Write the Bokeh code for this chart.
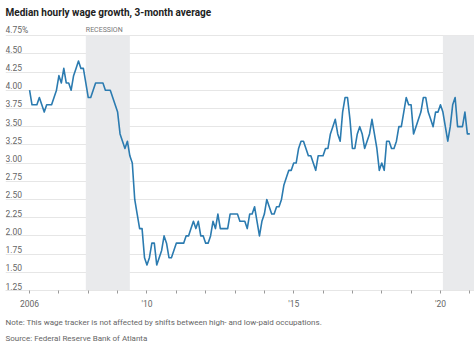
from bokeh.plotting import figure
from bokeh.models import Range1d, FixedTicker, ColumnDataSource, Title, BoxAnnotation
from bokeh.core.properties import value
from bokeh.embed import file_html
from bokeh.resources import INLINE

# ---- data -------------------------------------------------------------
start_year = 2006
wage_growth = [
    # 2006
    4.0, 3.8, 3.8, 3.8, 3.9, 3.8, 3.7, 3.8, 3.8, 3.8, 3.9, 4.0,
    # 2007
    4.2, 4.1, 4.3, 4.1, 4.1, 4.0, 4.2, 4.3, 4.4, 4.3, 4.3, 4.1,
    # 2008
    3.9, 3.9, 4.0, 4.1, 4.1, 4.1, 4.1, 4.0, 4.0, 4.0, 3.9, 3.8,
    # 2009
    3.7, 3.4, 3.3, 3.2, 3.3, 3.1, 3.0, 2.5, 2.3, 2.1, 2.1, 1.7,
    # 2010
    1.6, 1.7, 1.9, 1.9, 1.6, 1.7, 1.8, 2.0, 1.9, 1.7, 1.7, 1.8,
    # 2011
    1.9, 1.9, 1.9, 1.9, 2.0, 2.0, 2.1, 2.2, 2.1, 2.2, 2.0, 2.0,
    # 2012
    1.9, 1.9, 2.0, 2.2, 2.1, 2.3, 2.1, 2.1, 2.1, 2.1, 2.3, 2.3,
    # 2013
    2.3, 2.3, 2.2, 2.2, 2.2, 2.1, 2.3, 2.3, 2.4, 2.2, 2.0, 2.2,
    # 2014
    2.3, 2.5, 2.4, 2.3, 2.3, 2.4, 2.4, 2.5, 2.7, 2.8, 2.9, 2.9,
    # 2015
    3.0, 3.0, 3.2, 3.3, 3.3, 3.2, 3.1, 3.1, 3.0, 2.9, 3.1, 3.1,
    # 2016
    3.1, 3.2, 3.2, 3.4, 3.5, 3.6, 3.4, 3.3, 3.7, 3.9, 3.9, 3.6,
    # 2017
    3.2, 3.2, 3.4, 3.5, 3.4, 3.2, 3.3, 3.4, 3.6, 3.4, 3.2, 2.9,
    # 2018
    3.0, 2.9, 3.3, 3.3, 3.2, 3.2, 3.3, 3.5, 3.5, 3.7, 3.9, 3.8,
    # 2019
    3.8, 3.4, 3.5, 3.6, 3.7, 3.9, 3.9, 3.7, 3.6, 3.5, 3.7, 3.7,
    # 2020
    3.8, 3.7, 3.5, 3.3, 3.5, 3.8, 3.9, 3.5, 3.5, 3.5, 3.7, 3.4,
    # 2021
    3.4,
]
months = [start_year + i / 12 for i in range(len(wage_growth))]

recession_start = [2007 + 11 / 12, 2020 + 1 / 12]
recession_end = [2009 + 5 / 12, None]
recession_label = "RECESSION"

y_ticks = [1.25, 1.50, 1.75, 2.00, 2.25, 2.50, 2.75, 3.00,
           3.25, 3.50, 3.75, 4.00, 4.25, 4.50, 4.75]
y_tick_labels = ["1.25", "1.50", "1.75", "2.00", "2.25", "2.50", "2.75", "3.00",
                 "3.25", "3.50", "3.75", "4.00", "4.25", "4.50", "4.75%"]
x_ticks = list(range(2006, 2022))
x_label_years = [2006, 2010, 2015, 2020]
x_label_texts = ["2006", "'10", "'15", "'20"]

title_text = "Median hourly wage growth, 3-month average"
note_text = "Note: This wage tracker is not affected by shifts between high- and low-paid occupations."
source_text = "Source: Federal Reserve Bank of Atlanta"

# ---- styling ----------------------------------------------------------
LINE = "#2b7bb0"
SHADE = "#e9eaec"
GRID = "#e6e6e6"
LABEL = "#666666"
FONT = "Roboto"

x_start, x_end = 2005.18, 2021.16
y_start, y_end = 1.25, 4.93

p = figure(width=474, height=344, output_backend="svg", toolbar_location=None,
           x_range=Range1d(x_start, x_end), y_range=Range1d(y_start, y_end),
           min_border_left=5, min_border_right=0, min_border_top=0, min_border_bottom=0)
p.outline_line_color = None
p.background_fill_color = "white"
p.border_fill_color = "white"

# title
p.title.text = title_text
p.title.text_font = FONT
p.title.text_font_style = "bold"
p.title.text_font_size = "10px"
p.title.text_color = "#222222"
p.title.align = "left"
p.title.offset = 0
p.title.standoff = 9

# recession shading
for s, e in zip(recession_start, recession_end):
    kw = dict(left=s, top=y_ticks[-1], bottom=y_ticks[0],
              fill_color=SHADE, fill_alpha=1.0, line_color=None, level="underlay")
    if e is not None:
        kw["right"] = e
    p.add_layout(BoxAnnotation(**kw))

# grid
p.xgrid.visible = False
p.ygrid.ticker = FixedTicker(ticks=y_ticks)
p.ygrid.grid_line_color = GRID
p.ygrid.grid_line_width = 1
p.ygrid.level = "underlay"

# y axis hidden, labels drawn above gridlines
p.yaxis.visible = False
ysrc = ColumnDataSource(dict(x=[x_start] * len(y_ticks), y=y_ticks, t=y_tick_labels))
p.text(x="x", y="y", text="t", source=ysrc, text_font=value(FONT), text_font_size="8.5px",
       text_color=LABEL, text_baseline="bottom", text_align="left", y_offset=-1)

# recession label
p.text(x=[recession_start[0]], y=[y_ticks[-1]], text=[recession_label], text_font=value(FONT),
       text_font_size="7px", text_color="#777777", text_baseline="bottom",
       text_align="left", y_offset=-2)

# data line
p.line(months, wage_growth, line_color=LINE, line_width=1.6, line_join="round")

# x axis
xa = p.xaxis[0]
xa.ticker = FixedTicker(ticks=x_ticks)
overrides = {yr: "" for yr in x_ticks}
for yr, t in zip(x_label_years, x_label_texts):
    overrides[yr] = t
xa.major_label_overrides = overrides
xa.axis_line_color = GRID
xa.major_tick_line_color = "#999999"
xa.major_tick_in = 0
xa.major_tick_out = 3
xa.minor_tick_line_color = None
xa.major_label_text_font = FONT
xa.major_label_text_font_size = "8.5px"
xa.major_label_text_color = LABEL
xa.major_label_standoff = 5

# notes below
for txt, so in [(note_text, 8), (source_text, 3)]:
    p.add_layout(Title(text=txt, align="left", text_font=FONT, text_font_size="8px",
                       text_font_style="normal", text_color=LABEL, standoff=so), "below")

open("out.html", "w").write(file_html(p, INLINE))
